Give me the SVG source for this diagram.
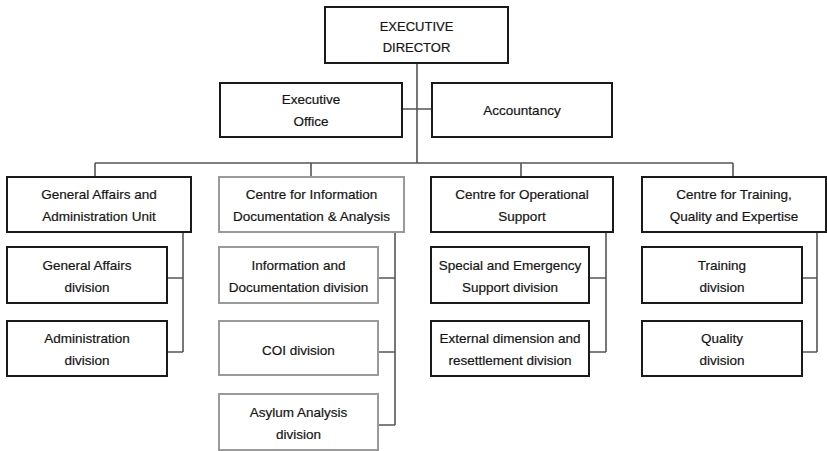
<svg xmlns="http://www.w3.org/2000/svg" width="827" height="451" viewBox="0 0 827 451">
<style>
.bk{fill:#fff;stroke:#1a1a1a;stroke-width:2}
.gr{fill:#fff;stroke:#9a9a9a;stroke-width:2}
.t{font-family:"Liberation Sans",Arial,sans-serif;font-size:13.5px;fill:#151515;stroke:#151515;stroke-width:0.2;text-anchor:middle}
.h{font-size:13px}
.c{fill:none;stroke:#555;stroke-width:1.6}
</style>
<rect width="827" height="451" fill="#fff"/>
<g id="connectors">
<path class="c" d="M417,63 V163 M402,109 H432 M95,163 H733 M95,163 V177 M311,163 V177 M521,163 V177 M733,163 V177"/>
<path class="c" d="M183,232 V352 M167,278 H183 M167,352 H183"/>
<path class="c" d="M395,232 V425 M378,278 H395 M378,352 H395 M378,425 H395"/>
<path class="c" d="M606,232 V352 M589,278 H606 M589,352 H606"/>
<path class="c" d="M817,232 V352 M802,278 H817 M802,352 H817"/>
</g>
<g id="executive-director"><rect class="bk" x="325" y="7" width="183" height="56"/><text class="t h" x="416.5" y="31">EXECUTIVE</text><text class="t h" x="416.5" y="52">DIRECTOR</text></g>
<g id="executive-office"><rect class="bk" x="220" y="83" width="182" height="54"/><text class="t" x="311" y="104">Executive</text><text class="t" x="311" y="126">Office</text></g>
<g id="accountancy"><rect class="bk" x="432" y="83" width="180" height="54"/><text class="t" x="522" y="115">Accountancy</text></g>
<g id="gaau"><rect class="bk" x="7" y="177" width="184" height="55"/><text class="t" x="99" y="199">General Affairs and</text><text class="t" x="99" y="221">Administration Unit</text></g>
<g id="cida"><rect class="gr" x="219" y="177" width="185" height="55"/><text class="t" x="311.5" y="199">Centre for Information</text><text class="t" x="311.5" y="221">Documentation &amp; Analysis</text></g>
<g id="cos"><rect class="bk" x="431" y="177" width="182" height="55"/><text class="t" x="522" y="199">Centre for Operational</text><text class="t" x="522" y="221">Support</text></g>
<g id="ctqe"><rect class="bk" x="642" y="177" width="184" height="55"/><text class="t" x="734" y="199">Centre for Training,</text><text class="t" x="734" y="221">Quality and Expertise</text></g>
<g id="ga-div"><rect class="bk" x="7" y="247" width="160" height="56"/><text class="t" x="87" y="270">General Affairs</text><text class="t" x="87" y="292">division</text></g>
<g id="adm-div"><rect class="bk" x="7" y="321" width="160" height="55"/><text class="t" x="87" y="343">Administration</text><text class="t" x="87" y="365">division</text></g>
<g id="id-div"><rect class="gr" x="219" y="247" width="159" height="56"/><text class="t" x="298.5" y="270">Information and</text><text class="t" x="298.5" y="292">Documentation division</text></g>
<g id="coi-div"><rect class="gr" x="219" y="321" width="159" height="54"/><text class="t" x="298.5" y="355">COI division</text></g>
<g id="aa-div"><rect class="gr" x="219" y="394" width="159" height="56"/><text class="t" x="298.5" y="417">Asylum Analysis</text><text class="t" x="298.5" y="439">division</text></g>
<g id="ses-div"><rect class="bk" x="431" y="247" width="158" height="56"/><text class="t" x="510" y="270">Special and Emergency</text><text class="t" x="510" y="292">Support division</text></g>
<g id="edr-div"><rect class="bk" x="431" y="321" width="158" height="55"/><text class="t" x="510" y="343">External dimension and</text><text class="t" x="510" y="365">resettlement division</text></g>
<g id="tr-div"><rect class="bk" x="642" y="247" width="160" height="56"/><text class="t" x="722" y="270">Training</text><text class="t" x="722" y="292">division</text></g>
<g id="q-div"><rect class="bk" x="642" y="321" width="160" height="55"/><text class="t" x="722" y="343">Quality</text><text class="t" x="722" y="365">division</text></g>
</svg>
